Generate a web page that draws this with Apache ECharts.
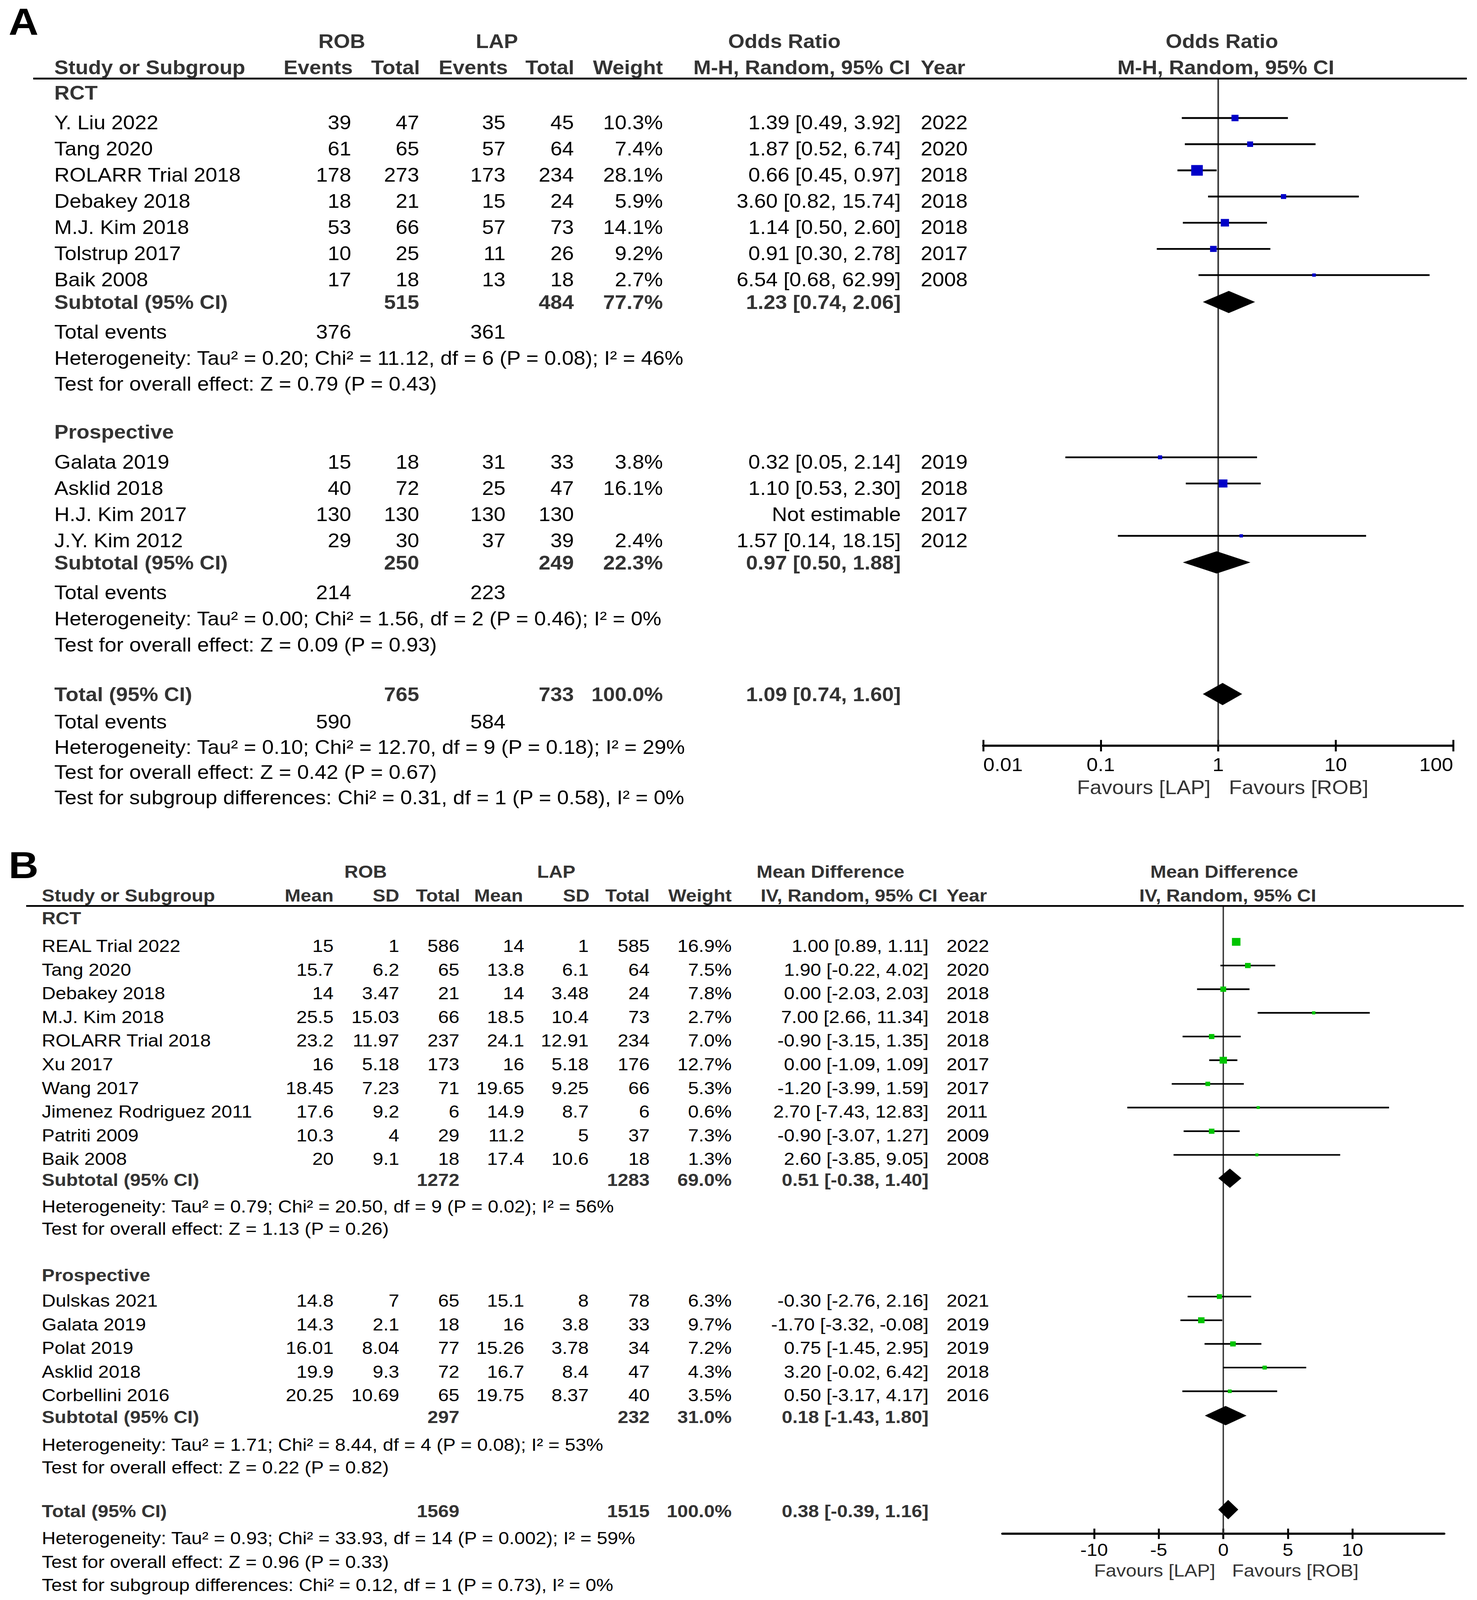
<!DOCTYPE html>
<html><head><meta charset="utf-8">
<script src="https://cdn.jsdelivr.net/npm/echarts@6/dist/echarts.min.js"></script>
<style>html,body{margin:0;padding:0;background:#fff;overflow:hidden}#c{width:3781px;height:4461px;transform-origin:0 0}</style>
</head><body><div id="c"></div>
<script>
// ================= DATA: Panel A (Odds Ratio) =================
const aGroupLabels = ['RCT', 'Prospective'];
const aHeaderTop = ['ROB', 'LAP', 'Odds Ratio', 'Odds Ratio'];
const aHeaderCols = ['Study or Subgroup', 'Events', 'Total', 'Events', 'Total', 'Weight', 'M-H, Random, 95% CI', 'Year', 'M-H, Random, 95% CI'];
const aStudies = [['Y. Liu 2022', 'Tang 2020', 'ROLARR Trial 2018', 'Debakey 2018', 'M.J. Kim 2018', 'Tolstrup 2017', 'Baik 2008'],
                  ['Galata 2019', 'Asklid 2018', 'H.J. Kim 2017', 'J.Y. Kim 2012']];
const aRobEvents = [[39, 61, 178, 18, 53, 10, 17], [15, 40, 130, 29]];
const aRobTotal  = [[47, 65, 273, 21, 66, 25, 18], [18, 72, 130, 30]];
const aLapEvents = [[35, 57, 173, 15, 57, 11, 13], [31, 25, 130, 37]];
const aLapTotal  = [[45, 64, 234, 24, 73, 26, 18], [33, 47, 130, 39]];
const aWeight    = [[10.3, 7.4, 28.1, 5.9, 14.1, 9.2, 2.7], [3.8, 16.1, null, 2.4]];
const aOR        = [[1.39, 1.87, 0.66, 3.60, 1.14, 0.91, 6.54], [0.32, 1.10, null, 1.57]];
const aLo        = [[0.49, 0.52, 0.45, 0.82, 0.50, 0.30, 0.68], [0.05, 0.53, null, 0.14]];
const aHi        = [[3.92, 6.74, 0.97, 15.74, 2.60, 2.78, 62.99], [2.14, 2.30, null, 18.15]];
const aYear      = [[2022, 2020, 2018, 2018, 2018, 2017, 2008], [2019, 2018, 2017, 2012]];
const aSubRobTotal = [515, 250];
const aSubLapTotal = [484, 249];
const aSubWeight = [77.7, 22.3];
const aSubOR = [1.23, 0.97];
const aSubLo = [0.74, 0.50];
const aSubHi = [2.06, 1.88];
const aSubRobEvents = [376, 214];
const aSubLapEvents = [361, 223];
const aSubHetero = ['Heterogeneity: Tau² = 0.20; Chi² = 11.12, df = 6 (P = 0.08); I² = 46%',
                    'Heterogeneity: Tau² = 0.00; Chi² = 1.56, df = 2 (P = 0.46); I² = 0%'];
const aSubTest = ['Test for overall effect: Z = 0.79 (P = 0.43)', 'Test for overall effect: Z = 0.09 (P = 0.93)'];
const aTotal = [765, 733];           // ROB total, LAP total
const aTotalWeight = 100.0;
const aTotalOR = [1.09, 0.74, 1.60]; // estimate, lower, upper
const aTotalEvents = [590, 584];
const aTotalHetero = 'Heterogeneity: Tau² = 0.10; Chi² = 12.70, df = 9 (P = 0.18); I² = 29%';
const aTotalTest = 'Test for overall effect: Z = 0.42 (P = 0.67)';
const aSubgroupTest = 'Test for subgroup differences: Chi² = 0.31, df = 1 (P = 0.58), I² = 0%';
const aTickLabels = ['0.01', '0.1', '1', '10', '100'];
const aFavours = ['Favours [LAP]', 'Favours [ROB]'];

// ================= DATA: Panel B (Mean Difference) =================
const bGroupLabels = ['RCT', 'Prospective'];
const bHeaderTop = ['ROB', 'LAP', 'Mean Difference', 'Mean Difference'];
const bHeaderCols = ['Study or Subgroup', 'Mean', 'SD', 'Total', 'Mean', 'SD', 'Total', 'Weight', 'IV, Random, 95% CI', 'Year', 'IV, Random, 95% CI'];
const bStudies = [['REAL Trial 2022', 'Tang 2020', 'Debakey 2018', 'M.J. Kim 2018', 'ROLARR Trial 2018', 'Xu 2017', 'Wang 2017', 'Jimenez Rodriguez 2011', 'Patriti 2009', 'Baik 2008'],
                  ['Dulskas 2021', 'Galata 2019', 'Polat 2019', 'Asklid 2018', 'Corbellini 2016']];
const bRobMean  = [[15, 15.7, 14, 25.5, 23.2, 16, 18.45, 17.6, 10.3, 20], [14.8, 14.3, 16.01, 19.9, 20.25]];
const bRobSD    = [[1, 6.2, 3.47, 15.03, 11.97, 5.18, 7.23, 9.2, 4, 9.1], [7, 2.1, 8.04, 9.3, 10.69]];
const bRobTotal = [[586, 65, 21, 66, 237, 173, 71, 6, 29, 18], [65, 18, 77, 72, 65]];
const bLapMean  = [[14, 13.8, 14, 18.5, 24.1, 16, 19.65, 14.9, 11.2, 17.4], [15.1, 16, 15.26, 16.7, 19.75]];
const bLapSD    = [[1, 6.1, 3.48, 10.4, 12.91, 5.18, 9.25, 8.7, 5, 10.6], [8, 3.8, 3.78, 8.4, 8.37]];
const bLapTotal = [[585, 64, 24, 73, 234, 176, 66, 6, 37, 18], [78, 33, 34, 47, 40]];
const bWeight   = [[16.9, 7.5, 7.8, 2.7, 7.0, 12.7, 5.3, 0.6, 7.3, 1.3], [6.3, 9.7, 7.2, 4.3, 3.5]];
const bMD       = [[1.00, 1.90, 0.00, 7.00, -0.90, 0.00, -1.20, 2.70, -0.90, 2.60], [-0.30, -1.70, 0.75, 3.20, 0.50]];
const bLo       = [[0.89, -0.22, -2.03, 2.66, -3.15, -1.09, -3.99, -7.43, -3.07, -3.85], [-2.76, -3.32, -1.45, -0.02, -3.17]];
const bHi       = [[1.11, 4.02, 2.03, 11.34, 1.35, 1.09, 1.59, 12.83, 1.27, 9.05], [2.16, -0.08, 2.95, 6.42, 4.17]];
const bYear     = [[2022, 2020, 2018, 2018, 2018, 2017, 2017, 2011, 2009, 2008], [2021, 2019, 2019, 2018, 2016]];
const bSubRobTotal = [1272, 297];
const bSubLapTotal = [1283, 232];
const bSubWeight = [69.0, 31.0];
const bSubMD = [0.51, 0.18];
const bSubLo = [-0.38, -1.43];
const bSubHi = [1.40, 1.80];
const bSubHetero = ['Heterogeneity: Tau² = 0.79; Chi² = 20.50, df = 9 (P = 0.02); I² = 56%',
                    'Heterogeneity: Tau² = 1.71; Chi² = 8.44, df = 4 (P = 0.08); I² = 53%'];
const bSubTest = ['Test for overall effect: Z = 1.13 (P = 0.26)', 'Test for overall effect: Z = 0.22 (P = 0.82)'];
const bTotal = [1569, 1515];
const bTotalWeight = 100.0;
const bTotalMD = [0.38, -0.39, 1.16];
const bTotalHetero = 'Heterogeneity: Tau² = 0.93; Chi² = 33.93, df = 14 (P = 0.002); I² = 59%';
const bTotalTest = 'Test for overall effect: Z = 0.96 (P = 0.33)';
const bSubgroupTest = 'Test for subgroup differences: Chi² = 0.12, df = 1 (P = 0.73), I² = 0%';
const bTicks = [-10, -5, 0, 5, 10];
const bTickLabels = ['-10', '-5', '0', '5', '10'];
const bFavours = ['Favours [LAP]', 'Favours [ROB]'];

// ================= LAYOUT / STYLE =================
const W = 3781, H = 4461;
const FONT = '"Liberation Sans", Arial, Helvetica, sans-serif';
const BLUE = '#0000c8', GREEN = '#00c400', BOLDC = '#333';
const texts = [];
function T(x, y, s, size, opt) {
  opt = opt || {};
  const al = opt.align || 'left';
  texts.push({type: 'text', silent: true, z: 10, style: {
    text: String(s), x: x, y: y,
    fill: opt.color || (opt.bold ? BOLDC : '#000'),
    font: (opt.bold ? 'bold ' : '') + size + 'px ' + FONT,
    align: al, verticalAlign: 'middle', textAlign: al, textVerticalAlign: 'middle'}});
}
function hline(x1, x2, y, w) {
  texts.push({type: 'line', silent: true, z: 9, shape: {x1: x1, y1: y, x2: x2, y2: y}, style: {stroke: '#000', lineWidth: w}});
}
const pct = v => v.toFixed(1) + '%';
const ci = (e, l, h) => e.toFixed(2) + ' [' + l.toFixed(2) + ', ' + h.toFixed(2) + ']';
const sq = (w, k, mn) => Math.max(mn, k * Math.sqrt(w));

// ---------- Panel A layout ----------
const LA = {fs: 54, name: 139, cols: [899, 1073, 1294, 1469, 1697], ci: 2306, year: 2357,
  groupY: [259, 1204], first: [83, 84], step: 73, sub: [63, 62], ev: [83, 83], het: [72, 73], test: [72, 73],
  totY: 1936, totGaps: [76, 71, 70, 71], markOff: -13, diaOff: -1,
  gridTop: 219, gridBottom: 2079, gridLeft: 2517, gridWidth: 1203};
T(22, 61, 'A', 106, {bold: true, color: '#000'});
[875, 1272, 2008, 3128].forEach((x, i) => T(x, 115, aHeaderTop[i], LA.fs, {bold: true, align: 'center'}));
const aHdrPos = [[139, 'left'], [903, 'right'], [1075, 'right'], [1300, 'right'], [1470, 'right'], [1697, 'right'], [2330, 'right'], [2357, 'left'], [3138, 'center']];
aHdrPos.forEach((p, i) => T(p[0], 188, aHeaderCols[i], LA.fs, {bold: true, align: p[1]}));
hline(85, 3755, 219, 5);

const aMarks = [], aDiamonds = [];
for (let g = 0; g < 2; g++) {
  let y = LA.groupY[g];
  T(LA.name, y, aGroupLabels[g], LA.fs, {bold: true});
  y += LA.first[g];
  for (let i = 0; i < aStudies[g].length; i++) {
    if (i > 0) y += LA.step;
    T(LA.name, y, aStudies[g][i], LA.fs);
    T(LA.cols[0], y, aRobEvents[g][i], LA.fs, {align: 'right'});
    T(LA.cols[1], y, aRobTotal[g][i], LA.fs, {align: 'right'});
    T(LA.cols[2], y, aLapEvents[g][i], LA.fs, {align: 'right'});
    T(LA.cols[3], y, aLapTotal[g][i], LA.fs, {align: 'right'});
    if (aWeight[g][i] != null) {
      T(LA.cols[4], y, pct(aWeight[g][i]), LA.fs, {align: 'right'});
      T(LA.ci, y, ci(aOR[g][i], aLo[g][i], aHi[g][i]), LA.fs, {align: 'right'});
      aMarks.push([aLo[g][i], aHi[g][i], aOR[g][i], y + LA.markOff, sq(aWeight[g][i], 5.6, 9)]);
    } else {
      T(LA.ci, y, 'Not estimable', LA.fs, {align: 'right'});
    }
    T(LA.year, y, aYear[g][i], LA.fs);
  }
  y += LA.sub[g];
  T(LA.name, y, 'Subtotal (95% CI)', LA.fs, {bold: true});
  T(LA.cols[1], y, aSubRobTotal[g], LA.fs, {bold: true, align: 'right'});
  T(LA.cols[3], y, aSubLapTotal[g], LA.fs, {bold: true, align: 'right'});
  T(LA.cols[4], y, pct(aSubWeight[g]), LA.fs, {bold: true, align: 'right'});
  T(LA.ci, y, ci(aSubOR[g], aSubLo[g], aSubHi[g]), LA.fs, {bold: true, align: 'right'});
  aDiamonds.push([aSubLo[g], aSubOR[g], aSubHi[g], y + LA.diaOff]);
  y += LA.ev[g];
  T(LA.name, y, 'Total events', LA.fs);
  T(LA.cols[0], y, aSubRobEvents[g], LA.fs, {align: 'right'});
  T(LA.cols[2], y, aSubLapEvents[g], LA.fs, {align: 'right'});
  y += LA.het[g];
  T(LA.name, y, aSubHetero[g], LA.fs);
  y += LA.test[g];
  T(LA.name, y, aSubTest[g], LA.fs);
}
{
  let y = LA.totY;
  T(LA.name, y, 'Total (95% CI)', LA.fs, {bold: true});
  T(LA.cols[1], y, aTotal[0], LA.fs, {bold: true, align: 'right'});
  T(LA.cols[3], y, aTotal[1], LA.fs, {bold: true, align: 'right'});
  T(LA.cols[4], y, pct(aTotalWeight), LA.fs, {bold: true, align: 'right'});
  T(LA.ci, y, ci(aTotalOR[0], aTotalOR[1], aTotalOR[2]), LA.fs, {bold: true, align: 'right'});
  aDiamonds.push([aTotalOR[1], aTotalOR[0], aTotalOR[2], y + LA.diaOff]);
  y += LA.totGaps[0];
  T(LA.name, y, 'Total events', LA.fs);
  T(LA.cols[0], y, aTotalEvents[0], LA.fs, {align: 'right'});
  T(LA.cols[2], y, aTotalEvents[1], LA.fs, {align: 'right'});
  y += LA.totGaps[1]; T(LA.name, y, aTotalHetero, LA.fs);
  y += LA.totGaps[2]; T(LA.name, y, aTotalTest, LA.fs);
  y += LA.totGaps[3]; T(LA.name, y, aSubgroupTest, LA.fs);
}
T(3099, 2195, aFavours[0], 54, {align: 'right', color: '#333'});
T(3146, 2195, aFavours[1], 54, {color: '#333'});

// ---------- Panel B layout ----------
const LB = {fs: 49, name: 107, cols: [854, 1022, 1176, 1342, 1507, 1663, 1873], ci: 2377, year: 2423,
  groupY: [2560, 3555], first: [77, 71], step: 66, sub: [58, 61], het: [74, 77], test: [63, 63],
  totY: 4213, totGaps: [75, 67, 64], markOff: -11, diaOff: -4,
  gridTop: 2526, gridBottom: 4276, gridLeft: 2566, gridWidth: 1131};
T(22, 2412, 'B', 106, {bold: true, color: '#000'});
[936, 1424, 2126, 3134].forEach((x, i) => T(x, 2430, bHeaderTop[i], LB.fs, {bold: true, align: 'center'}));
const bHdrPos = [[107, 'left'], [854, 'right'], [1022, 'right'], [1178, 'right'], [1339, 'right'], [1509, 'right'], [1663, 'right'], [1873, 'right'], [2400, 'right'], [2423, 'left'], [3143, 'center']];
bHdrPos.forEach((p, i) => T(p[0], 2497, bHeaderCols[i], LB.fs, {bold: true, align: p[1]}));
hline(67, 3747, 2526, 5);

const bMarks = [], bDiamonds = [];
for (let g = 0; g < 2; g++) {
  let y = LB.groupY[g];
  T(LB.name, y, bGroupLabels[g], LB.fs, {bold: true});
  y += LB.first[g];
  for (let i = 0; i < bStudies[g].length; i++) {
    if (i > 0) y += LB.step;
    T(LB.name, y, bStudies[g][i], LB.fs);
    const vals = [bRobMean[g][i], bRobSD[g][i], bRobTotal[g][i], bLapMean[g][i], bLapSD[g][i], bLapTotal[g][i], pct(bWeight[g][i])];
    vals.forEach((v, k) => T(LB.cols[k], y, v, LB.fs, {align: 'right'}));
    T(LB.ci, y, ci(bMD[g][i], bLo[g][i], bHi[g][i]), LB.fs, {align: 'right'});
    T(LB.year, y, bYear[g][i], LB.fs);
    bMarks.push([bLo[g][i], bHi[g][i], bMD[g][i], y + LB.markOff, sq(bWeight[g][i], 5.3, 8)]);
  }
  y += LB.sub[g];
  T(LB.name, y, 'Subtotal (95% CI)', LB.fs, {bold: true});
  T(LB.cols[2], y, bSubRobTotal[g], LB.fs, {bold: true, align: 'right'});
  T(LB.cols[5], y, bSubLapTotal[g], LB.fs, {bold: true, align: 'right'});
  T(LB.cols[6], y, pct(bSubWeight[g]), LB.fs, {bold: true, align: 'right'});
  T(LB.ci, y, ci(bSubMD[g], bSubLo[g], bSubHi[g]), LB.fs, {bold: true, align: 'right'});
  bDiamonds.push([bSubLo[g], bSubMD[g], bSubHi[g], y + LB.diaOff]);
  y += LB.het[g];
  T(LB.name, y, bSubHetero[g], LB.fs);
  y += LB.test[g];
  T(LB.name, y, bSubTest[g], LB.fs);
}
{
  let y = LB.totY;
  T(LB.name, y, 'Total (95% CI)', LB.fs, {bold: true});
  T(LB.cols[2], y, bTotal[0], LB.fs, {bold: true, align: 'right'});
  T(LB.cols[5], y, bTotal[1], LB.fs, {bold: true, align: 'right'});
  T(LB.cols[6], y, pct(bTotalWeight), LB.fs, {bold: true, align: 'right'});
  T(LB.ci, y, ci(bTotalMD[0], bTotalMD[1], bTotalMD[2]), LB.fs, {bold: true, align: 'right'});
  bDiamonds.push([bTotalMD[1], bTotalMD[0], bTotalMD[2], y + LB.diaOff]);
  y += LB.totGaps[0]; T(LB.name, y, bTotalHetero, LB.fs);
  y += LB.totGaps[1]; T(LB.name, y, bTotalTest, LB.fs);
  y += LB.totGaps[2]; T(LB.name, y, bSubgroupTest, LB.fs);
}
T(3111, 4379, bFavours[0], 49, {align: 'right', color: '#333'});
T(3154, 4379, bFavours[1], 49, {color: '#333'});

// ================= SERIES =================
function refLine(xi, yi, v, w) {
  return {type: 'custom', xAxisIndex: xi, yAxisIndex: yi, silent: true, z: 2, data: [[v, 0]],
    encode: {x: 0},
    renderItem(params, api) {
      const cs = params.coordSys;
      const p = api.coord([api.value(0), cs.y]);
      return {type: 'line', shape: {x1: p[0], y1: cs.y, x2: p[0], y2: cs.y + cs.height}, style: {stroke: '#333', lineWidth: w}};
    }};
}
function studySeries(xi, yi, data, color, lw) {
  return {type: 'custom', xAxisIndex: xi, yAxisIndex: yi, silent: true, z: 3, data: data,
    encode: {x: [0, 1, 2], y: 3},
    renderItem(params, api) {
      const y = api.value(3), s = api.value(4);
      const a = api.coord([api.value(0), y]), b = api.coord([api.value(1), y]), c = api.coord([api.value(2), y]);
      return {type: 'group', children: [
        {type: 'line', shape: {x1: a[0], y1: a[1], x2: b[0], y2: b[1]}, style: {stroke: '#000', lineWidth: lw}},
        {type: 'rect', shape: {x: c[0] - s / 2, y: c[1] - s / 2, width: s, height: s}, style: {fill: color}}
      ]};
    }};
}
function diamondSeries(xi, yi, data, h) {
  return {type: 'custom', xAxisIndex: xi, yAxisIndex: yi, silent: true, z: 4, data: data,
    encode: {x: [0, 1, 2], y: 3},
    renderItem(params, api) {
      const y = api.value(3);
      const a = api.coord([api.value(0), y]), c = api.coord([api.value(1), y]), b = api.coord([api.value(2), y]);
      return {type: 'polygon', shape: {points: [[a[0], a[1]], [c[0], c[1] - h / 2], [b[0], b[1]], [c[0], c[1] + h / 2]]}, style: {fill: '#000'}};
    }};
}
function logLabel(v) {
  const i = Math.round(Math.log10(v)) + 2;
  return aTickLabels[i] !== undefined ? aTickLabels[i] : '';
}
function bLabel(v) {
  const i = bTicks.indexOf(Math.round(v));
  return i >= 0 ? bTickLabels[i] : '';
}

const option = {
  animation: false,
  backgroundColor: '#fff',
  grid: [
    {left: LA.gridLeft, top: LA.gridTop, width: LA.gridWidth, height: LA.gridBottom - LA.gridTop},
    {left: LB.gridLeft, top: LB.gridTop, width: LB.gridWidth, height: LB.gridBottom - LB.gridTop}
  ],
  xAxis: [
    {gridIndex: 0, type: 'log', logBase: 10, min: 0.01, max: 100, position: 'bottom',
     axisLine: {show: true, onZero: false, lineStyle: {color: '#000', width: 6}},
     axisTick: {show: true, inside: false, length: 16, lineStyle: {color: '#000', width: 5}},
     axisLabel: {show: true, formatter: logLabel, fontSize: 52, fontFamily: FONT, color: '#000', margin: 27,
                 alignMinLabel: 'left', alignMaxLabel: 'right'},
     splitLine: {show: false}},
    {gridIndex: 0, type: 'log', logBase: 10, min: 0.01, max: 100, position: 'bottom',
     axisLine: {show: false, onZero: false},
     axisTick: {show: true, inside: true, length: 16, lineStyle: {color: '#000', width: 5}},
     axisLabel: {show: false}, splitLine: {show: false}},
    {gridIndex: 1, type: 'value', min: -17.1, max: 17.1, position: 'bottom',
     axisLine: {show: true, onZero: false, lineStyle: {color: '#000', width: 6}},
     axisTick: {show: true, inside: false, length: 15, customValues: bTicks, lineStyle: {color: '#000', width: 5}},
     axisLabel: {show: true, customValues: bTicks, formatter: bLabel, fontSize: 49, fontFamily: FONT, color: '#000', margin: 20},
     splitLine: {show: false}},
    {gridIndex: 1, type: 'value', min: -17.1, max: 17.1, position: 'bottom',
     axisLine: {show: false, onZero: false},
     axisTick: {show: true, inside: true, length: 14, customValues: bTicks, lineStyle: {color: '#000', width: 5}},
     axisLabel: {show: false}, splitLine: {show: false}}
  ],
  yAxis: [
    {gridIndex: 0, type: 'value', min: LA.gridTop, max: LA.gridBottom, inverse: true, show: false, axisLine: {onZero: false}, splitLine: {show: false}},
    {gridIndex: 1, type: 'value', min: LB.gridTop, max: LB.gridBottom, inverse: true, show: false, axisLine: {onZero: false}, splitLine: {show: false}}
  ],
  series: [
    refLine(0, 0, 1, 4),
    studySeries(0, 0, aMarks, BLUE, 5),
    diamondSeries(0, 0, aDiamonds, 62),
    refLine(2, 1, 0, 3.5),
    studySeries(2, 1, bMarks, GREEN, 4.5),
    diamondSeries(2, 1, bDiamonds, 54)
  ],
  graphic: {elements: texts}
};

// fit the 3781x4461 drawing into the visible viewport
const dom = document.getElementById('c');
const vw = window.innerWidth || W, vh = window.innerHeight || H;
const sx = vw / W, sy = vh / H;
if (Math.abs(sx - 1) > 0.002 || Math.abs(sy - 1) > 0.002) {
  dom.style.transform = 'scale(' + sx + ',' + sy + ')';
}
const chart = echarts.init(dom, null, {renderer: 'svg', width: W, height: H});
chart.setOption(option);
</script></body></html>
